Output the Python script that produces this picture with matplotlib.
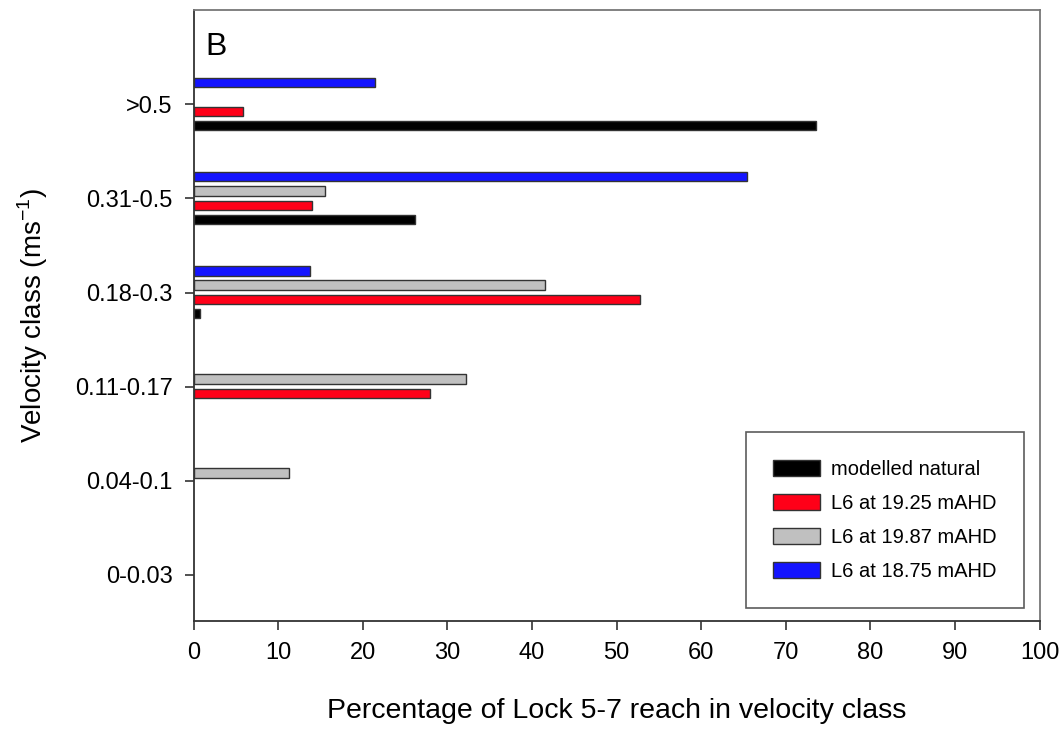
"""Horizontal grouped bars: share of Lock 5-7 reach per velocity class."""

import matplotlib
matplotlib.use("Agg")
import matplotlib.pyplot as plt
import numpy as np

plt.rcParams["font.family"] = ["Liberation Sans", "DejaVu Sans"]

categories = ["0-0.03", "0.04-0.1", "0.11-0.17", "0.18-0.3", "0.31-0.5", ">0.5"]
series_names = [
    "modelled natural",
    "L6 at 19.25 mAHD",
    "L6 at 19.87 mAHD",
    "L6 at 18.75 mAHD",
]
natural = [0.0, 0.0, 0.0, 0.7, 26.2, 73.6]
l6_1925 = [0.0, 0.0, 28.0, 52.8, 14.0, 5.8]
l6_1987 = [0.0, 11.3, 32.2, 41.5, 15.5, 0.0]
l6_1875 = [0.0, 0.0, 0.0, 13.7, 65.4, 21.4]

colors = ["#000000", "#ff0018", "#c0c0c0", "#1414ff"]
# vertical offset of each series inside a group (black lowest, blue highest)
offsets = [-0.225, -0.075, 0.08, 0.23]
bar_h = 0.1

fig = plt.figure(figsize=(10.64, 7.33), dpi=100)
ax = fig.add_axes([0.182, 0.153, 0.795, 0.833])

y = np.arange(len(categories))
for vals, name, col, off in zip(
    [natural, l6_1925, l6_1987, l6_1875], series_names, colors, offsets
):
    vals = np.asarray(vals)
    keep = vals > 0  # empty classes have no bar at all
    ax.barh(y[keep] + off, vals[keep], height=bar_h, color=col,
            edgecolor="#333333", linewidth=1.0, label=name)

ax.set_xlim(0, 100)
ax.set_ylim(-0.49, 6.0)
ax.set_xticks(np.arange(0, 101, 10))
ax.set_yticks(y)
ax.set_yticklabels(categories)
ax.tick_params(axis="both", labelsize=17, direction="out", length=6.5,
               width=1.2, color="#333333")
ax.tick_params(axis="x", pad=9)
ax.tick_params(axis="y", pad=8.5)

for side in ["left", "bottom"]:
    ax.spines[side].set_color("#333333")
    ax.spines[side].set_linewidth(1.3)
for side in ["top", "right"]:
    ax.spines[side].set_color("#777777")
    ax.spines[side].set_linewidth(1.3)

ax.set_xlabel("Percentage of Lock 5-7 reach in velocity class", fontsize=20.5,
              labelpad=24)
ax.set_ylabel("Velocity class (ms$^{\\mathregular{-1}}$)", fontsize=20,
              labelpad=18)

ax.text(0.014, 0.94, "B", transform=ax.transAxes, fontsize=23,
        ha="left", va="center")

leg = ax.legend(loc="lower right", bbox_to_anchor=(0.982, 0.021),
                fontsize=14.5, frameon=True, fancybox=False,
                handlelength=2.35, handleheight=0.9, handletextpad=0.55,
                labelspacing=0.73, borderpad=1.35, borderaxespad=0)
leg.get_frame().set_edgecolor("#333333")
leg.get_frame().set_linewidth(1.2)

fig.savefig("out.png", dpi=100)
